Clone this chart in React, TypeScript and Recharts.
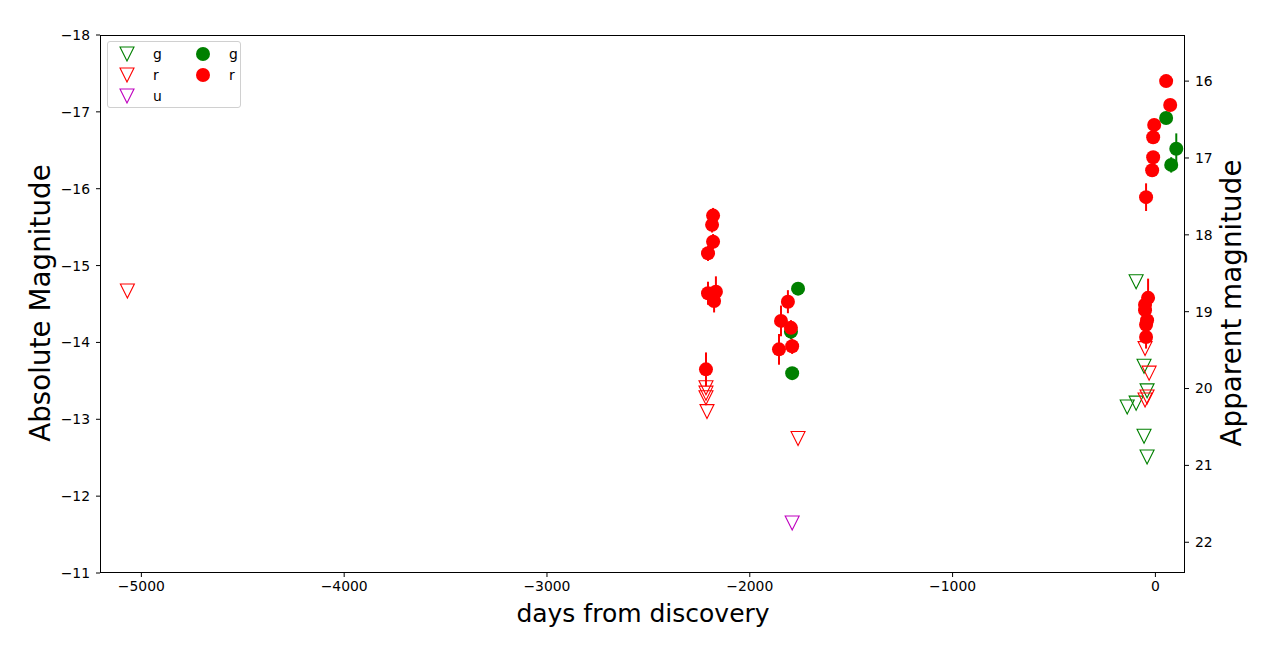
import { ScatterChart, Scatter, XAxis, YAxis, ErrorBar } from "recharts";

// upper limits (open triangles)
const gLimDays = [-95, -56, -41, -95, -139, -56, -41];
const gLimMags = [-14.79, -13.69, -13.37, -13.21, -13.16, -12.78, -12.51];
const rLimDays = [-5069, -2216, -2216, -2216, -2211, -1762, -51, -31, -41, -51];
const rLimMags = [-14.67, -13.41, -13.34, -13.28, -13.1, -12.75, -13.92, -13.6, -13.29, -13.25];
const uLimDays = [-1791];
const uLimMags = [-11.65];

// detections (filled circles with error bars)
const gDays = [-1762, -1797, -1791, 53, 103, 78];
const gMags = [-14.7, -14.14, -13.6, -16.92, -16.52, -16.31];
const gErrs = [0.05, 0.1, 0.05, 0.05, 0.2, 0.1];
const rDays = [
  -2181, -2186, -2181, -2206, -2206, -2167, -2176, -2216, -1812, -1846, -1797, -1856, -1791,
  53, 73, -6, -11, -11, -16, -46, -36, -51, -51, -41, -46, -46,
];
const rMags = [
  -15.65, -15.53, -15.31, -15.16, -14.64, -14.66, -14.54, -13.65, -14.53, -14.28, -14.19, -13.91, -13.95,
  -17.4, -17.09, -16.83, -16.67, -16.41, -16.24, -15.89, -14.58, -14.49, -14.42, -14.29, -14.23, -14.07,
];
const rErrs = [
  0.1, 0.1, 0.1, 0.1, 0.15, 0.2, 0.15, 0.22, 0.15, 0.2, 0.1, 0.2, 0.1,
  0.05, 0.05, 0.08, 0.08, 0.08, 0.08, 0.18, 0.25, 0.15, 0.15, 0.15, 0.15, 0.15,
];

const xTicks = [-5000, -4000, -3000, -2000, -1000, 0];
const yTicks = [-18, -17, -16, -15, -14, -13, -12, -11];
const appTicks = [16, 17, 18, 19, 20, 21, 22];
const APP_OFFSET = 33.4;

const G = "#008000";
const R = "#ff0000";
const M = "#bf00bf";
const FONT = "DejaVu Sans";

const pts = (d: number[], m: number[], e?: number[]) =>
  d.map((x, i) => ({ x, y: m[i], err: e ? e[i] : 0 }));

const tri = (color: string) => (p: any) => {
  const { cx, cy } = p;
  return (
    <path
      d={`M${cx - 7},${cy - 7}L${cx + 7},${cy - 7}L${cx},${cy + 7}Z`}
      fill="none"
      stroke={color}
      strokeWidth={1.1}
    />
  );
};
const dot = (color: string) => (p: any) => <circle cx={p.cx} cy={p.cy} r={7} fill={color} />;

const fmt = (v: number) => String(v).replace("-", "\u2212");
const tickStyle = { fill: "#000", fontSize: 13.9, fontFamily: FONT };

const LegendTri = ({ color }: { color: string }) => (
  <svg width={16} height={16} style={{ display: "block" }}>
    <path d="M1,1L15,1L8,15Z" fill="none" stroke={color} strokeWidth={1.1} />
  </svg>
);
const LegendDot = ({ color }: { color: string }) => (
  <svg width={16} height={16} style={{ display: "block" }}>
    <circle cx={8} cy={8} r={7} fill={color} />
  </svg>
);

export default function App() {
  const label = { position: "absolute" as const, fontFamily: FONT, color: "#000", whiteSpace: "nowrap" as const };
  return (
    <div style={{ position: "absolute", left: 0, top: 0, width: 1275, height: 650, background: "#fff" }}>
      <ScatterChart width={1275} height={650} margin={{ top: 35, right: 0, bottom: 0, left: 0 }}>
        <XAxis
          type="number"
          dataKey="x"
          domain={[-5204, 146]}
          ticks={xTicks}
          tickFormatter={fmt}
          height={77}
          axisLine={false}
          tickSize={4}
          tickMargin={4}
          tick={tickStyle}
          tickLine={{ stroke: "#000" }}
          allowDataOverflow
        />
        <YAxis
          yAxisId="left"
          type="number"
          dataKey="y"
          domain={[-18, -11]}
          reversed
          ticks={yTicks}
          tickFormatter={fmt}
          width={100}
          axisLine={false}
          tickSize={4}
          tickMargin={6}
          tick={tickStyle}
          tickLine={{ stroke: "#000" }}
          allowDataOverflow
        />
        <YAxis
          yAxisId="right"
          orientation="right"
          type="number"
          domain={[-18 + APP_OFFSET, -11 + APP_OFFSET]}
          reversed
          ticks={appTicks}
          width={90}
          axisLine={false}
          tickSize={4}
          tickMargin={6}
          tick={tickStyle}
          tickLine={{ stroke: "#000" }}
          allowDataOverflow
        />
        <Scatter yAxisId="left" data={pts(gLimDays, gLimMags)} shape={tri(G)} isAnimationActive={false} />
        <Scatter yAxisId="left" data={pts(rLimDays, rLimMags)} shape={tri(R)} isAnimationActive={false} />
        <Scatter yAxisId="left" data={pts(uLimDays, uLimMags)} shape={tri(M)} isAnimationActive={false} />
        <Scatter yAxisId="left" data={pts(gDays, gMags, gErrs)} shape={dot(G)} isAnimationActive={false}>
          <ErrorBar dataKey="err" direction="y" width={0} stroke={G} strokeWidth={2} isAnimationActive={false} />
        </Scatter>
        <Scatter yAxisId="left" data={pts(rDays, rMags, rErrs)} shape={dot(R)} isAnimationActive={false}>
          <ErrorBar dataKey="err" direction="y" width={0} stroke={R} strokeWidth={2} isAnimationActive={false} />
        </Scatter>
      </ScatterChart>

      {/* frame (spines) */}
      <div
        style={{
          position: "absolute",
          left: 100,
          top: 35,
          width: 1085,
          height: 538,
          border: "1px solid #000",
          boxSizing: "border-box",
          pointerEvents: "none",
        }}
      />

      {/* legend */}
      <div
        style={{
          position: "absolute",
          left: 107,
          top: 41,
          width: 134,
          height: 67,
          boxSizing: "border-box",
          border: "1px solid #d0d0d0",
          borderRadius: 3,
          background: "rgba(255,255,255,0.8)",
          fontFamily: FONT,
          fontSize: 13.9,
        }}
      >
        {[
          { c: G, t: "g", row: 0 },
          { c: R, t: "r", row: 1 },
          { c: M, t: "u", row: 2 },
        ].map((e) => (
          <div key={"t" + e.row} style={{ position: "absolute", left: 11, top: 4 + e.row * 21, display: "flex", alignItems: "center", height: 16 }}>
            <LegendTri color={e.c} />
            <span style={{ marginLeft: 18, lineHeight: "16px" }}>{e.t}</span>
          </div>
        ))}
        {[
          { c: G, t: "g", row: 0 },
          { c: R, t: "r", row: 1 },
        ].map((e) => (
          <div key={"c" + e.row} style={{ position: "absolute", left: 87, top: 4 + e.row * 21, display: "flex", alignItems: "center", height: 16 }}>
            <LegendDot color={e.c} />
            <span style={{ marginLeft: 18, lineHeight: "16px" }}>{e.t}</span>
          </div>
        ))}
      </div>

      {/* axis labels */}
      <div style={{ ...label, left: 643, top: 613, fontSize: 25, transform: "translate(-50%, -50%)" }}>
        days from discovery
      </div>
      <div style={{ ...label, left: 40, top: 303, fontSize: 27.8, transform: "translate(-50%, -50%) rotate(-90deg)" }}>
        Absolute Magnitude
      </div>
      <div style={{ ...label, left: 1231, top: 303, fontSize: 27.8, transform: "translate(-50%, -50%) rotate(-90deg)" }}>
        Apparent magnitude
      </div>
    </div>
  );
}
